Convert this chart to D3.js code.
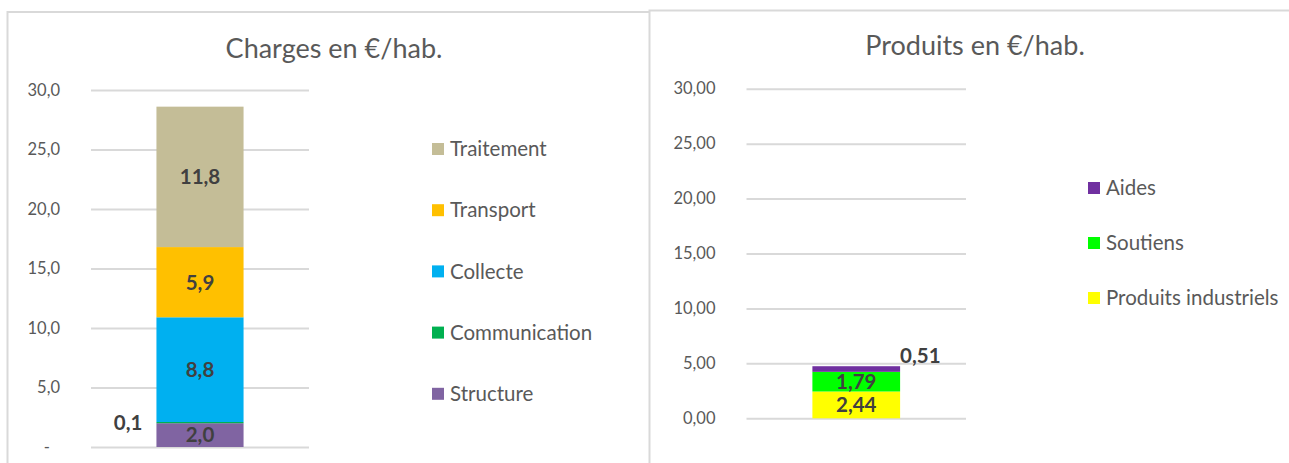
<!DOCTYPE html>
<html>
<head>
<meta charset="utf-8">
<script src="https://cdn.jsdelivr.net/npm/d3@7"></script>
<style>
  body { margin: 0; background: #fff; }
  text { font-family: Lato, "Open Sans", sans-serif; }
</style>
</head>
<body>
<svg id="chart" width="1289" height="463"></svg>
<script>
// charges (left chart), bottom to top
const chargeSeries = ["Structure", "Communication", "Collecte", "Transport", "Traitement"]
const chargeValues = [2.0, 0.1, 8.8, 5.9, 11.8]
const chargeColors = ["#8064A2", "#00B050", "#00B0F0", "#FFC000", "#C4BD97"]

// produits (right chart), bottom to top
const produitSeries = ["Produits industriels", "Soutiens", "Aides"]
const produitValues = [2.44, 1.79, 0.51]
const produitColors = ["#FFFF00", "#00FF00", "#7030A0"]

const yTicks = [0, 5, 10, 15, 20, 25, 30]

const svg = d3.select("#chart")

// panel frames
svg.append("rect")
    .attr("x", 7.5).attr("y", 12)
    .attr("width", 660).attr("height", 470)
    .attr("fill", "#fff").attr("stroke", "#d9d9d9").attr("stroke-width", 2)
svg.append("rect")
    .attr("x", 649.5).attr("y", 10.5)
    .attr("width", 660).attr("height", 470)
    .attr("fill", "#fff").attr("stroke", "#d9d9d9").attr("stroke-width", 2)

const frNum = (digits) => (v) => v.toFixed(digits).replace(".", ",")

function drawPanel(opt) {
    let g = svg.append("g")

    let y = d3.scaleLinear().domain([0, 30]).range(opt.yRange)
    let x = d3.scaleBand().domain(["total"]).range(opt.xRange).padding(0.429)

    // title
    g.append("text")
        .attr("x", opt.titleX).attr("y", opt.titleY)
        .attr("text-anchor", "middle")
        .style("font-size", "27px")
        .style("fill", "#595959")
        .text(opt.title)

    // axis + gridlines
    let axis = g.append("g")
        .attr("transform", "translate(" + opt.xRange[0] + ",0)")
        .call(d3.axisLeft(y)
            .tickValues(yTicks)
            .tickSize(-(opt.xRange[1] - opt.xRange[0]))
            .tickPadding(31)
            .tickFormat(opt.tickFormat))
    axis.select(".domain").remove()
    axis.selectAll(".tick line").attr("stroke", "#d9d9d9").attr("stroke-width", 2)
    axis.selectAll(".tick text")
        .attr("fill", "#595959")
        .style("font-size", "16.5px")
        .style("font-family", "Lato, sans-serif")
    if (opt.zeroDx) {
        axis.selectAll(".tick text").filter(d => d === 0).attr("dx", opt.zeroDx)
    }

    // stacked bar
    let row = {}
    opt.series.forEach((s, i) => row[s] = opt.values[i])
    let stacked = d3.stack().keys(opt.series)([row])

    g.selectAll("rect.seg")
        .data(stacked)
        .enter()
        .append("rect")
        .attr("class", "seg")
        .attr("x", x("total"))
        .attr("width", x.bandwidth())
        .attr("y", d => y(d[0][1]))
        .attr("height", d => y(d[0][0]) - y(d[0][1]))
        .attr("fill", (d, i) => opt.colors[i])

    // data labels
    g.selectAll("text.lbl")
        .data(stacked)
        .enter()
        .append("text")
        .attr("class", "lbl")
        .attr("x", (d, i) => {
            let o = opt.labelOffsets[i]
            if (o === "left") return x("total") - 14
            if (o === "right") return x("total") + x.bandwidth()
            return x("total") + x.bandwidth() / 2
        })
        .attr("y", (d, i) => {
            let mid = (y(d[0][0]) + y(d[0][1])) / 2
            return opt.labelOffsets[i] === "right" ? mid - 13 : mid
        })
        .attr("dy", "0.36em")
        .attr("text-anchor", (d, i) => {
            let o = opt.labelOffsets[i]
            return o === "left" ? "end" : o === "right" ? "start" : "middle"
        })
        .style("font-size", "20.5px")
        .style("font-weight", "bold")
        .style("fill", "#404040")
        .text((d, i) => opt.labelFormat(opt.values[i]))

    // legend, top entry = last series
    let leg = g.selectAll("g.leg")
        .data(opt.series.slice().reverse())
        .enter()
        .append("g")
        .attr("class", "leg")
        .attr("transform", (d, i) => "translate(" + opt.legendX + "," + (opt.legendY + i * opt.legendStep) + ")")
    leg.append("rect")
        .attr("x", 0).attr("y", -6)
        .attr("width", 12).attr("height", 12)
        .attr("fill", d => opt.colors[opt.series.indexOf(d)])
    leg.append("text")
        .attr("x", 18).attr("y", 0).attr("dy", "0.35em")
        .style("font-size", "20.5px")
        .style("fill", "#595959")
        .text(d => d)
}

drawPanel({
    title: "Charges en €/hab.",
    titleX: 334, titleY: 58,
    yRange: [447, 90],
    xRange: [91, 309],
    series: chargeSeries, values: chargeValues, colors: chargeColors,
    tickFormat: v => v === 0 ? "-" : frNum(1)(v),
    zeroDx: -10,
    labelFormat: frNum(1),
    labelOffsets: ["mid", "left", "mid", "mid", "mid"],
    legendX: 432, legendY: 149, legendStep: 61.2
})

drawPanel({
    title: "Produits en €/hab.",
    titleX: 975, titleY: 55,
    yRange: [418.3, 88.7],
    xRange: [746.5, 966],
    series: produitSeries, values: produitValues, colors: produitColors,
    tickFormat: frNum(2),
    labelFormat: frNum(2),
    labelOffsets: ["mid", "mid", "right"],
    legendX: 1088, legendY: 188, legendStep: 55
})
</script>
</body>
</html>
